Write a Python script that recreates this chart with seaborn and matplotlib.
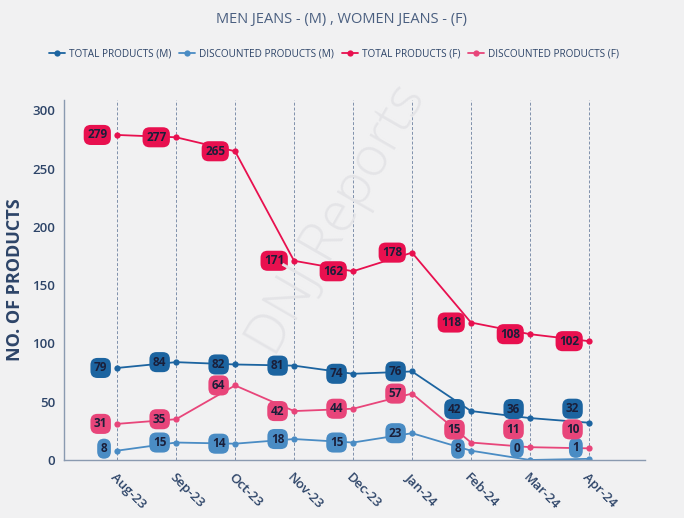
import numpy as np
import pandas as pd
import matplotlib
matplotlib.use("Agg")
import matplotlib.pyplot as plt
import seaborn as sns

months = ['Aug-23', 'Sep-23', 'Oct-23', 'Nov-23', 'Dec-23', 'Jan-24', 'Feb-24', 'Mar-24', 'Apr-24']
total_m = [79, 84, 82, 81, 74, 76, 42, 36, 32]
disc_m = [8, 15, 14, 18, 15, 23, 8, 0, 1]
total_f = [279, 277, 265, 171, 162, 178, 118, 108, 102]
disc_f = [31, 35, 64, 42, 44, 57, 15, 11, 10]

series = {
    'TOTAL PRODUCTS (M)': (total_m, '#1c64a0'),
    'DISCOUNTED PRODUCTS (M)': (disc_m, '#4a8cc4'),
    'TOTAL PRODUCTS (F)': (total_f, '#e8104f'),
    'DISCOUNTED PRODUCTS (F)': (disc_f, '#e8457a'),
}

# label nudges (pixels upward) where labels would collide
nudge = {
    'TOTAL PRODUCTS (M)': {6: 2, 7: 9, 8: 14},
    'DISCOUNTED PRODUCTS (M)': {0: 2, 6: 2, 7: 12, 8: 11},
    'DISCOUNTED PRODUCTS (F)': {6: 13, 7: 18, 8: 19},
}

rows = []
for name, (vals, _) in series.items():
    for i, v in enumerate(vals):
        rows.append({'idx': i, 'month': months[i], 'value': v, 'series': name})
df = pd.DataFrame(rows)

sns.set_style("white")
plt.rcParams['font.family'] = ['Open Sans', 'DejaVu Sans']

fig = plt.figure(figsize=(6.84, 5.18), dpi=100, facecolor='#f1f1f2')
ax = fig.add_axes([64 / 684, 58 / 518, (645 - 64) / 684, (460 - 100) / 518])
ax.set_facecolor('none')

# faint watermark
fig.text(338 / 684, 1 - 220 / 518, 'DNJ Reports', rotation=60, ha='center', va='center',
         fontsize=40, fontweight='light', color='#e4e4e7', zorder=0)

palette = {k: c for k, (_, c) in series.items()}
sns.lineplot(data=df, x='idx', y='value', hue='series', palette=palette, marker='o',
             markersize=4.5, markeredgewidth=0, linewidth=1.3, ax=ax, legend=True)

# vertical dashed guides
for i in range(len(months)):
    ax.axvline(i, color='#7f90ab', linestyle=(0, (3, 2)), linewidth=0.7, zorder=0)

# value labels
for name, (vals, col) in series.items():
    for i, v in enumerate(vals):
        dy = nudge.get(name, {}).get(i, 0) * 0.72
        ax.annotate(str(v), (i, v), xytext=(-7, dy), textcoords='offset points',
                    ha='right', va='center', fontsize=8.5, fontweight='bold', color='#1a1f3a',
                    bbox=dict(boxstyle='round,pad=0.3,rounding_size=0.6', fc=col, ec='none'),
                    zorder=5)

ax.set_xlim(-0.9, 8.95)
ax.set_ylim(0, 309)
ax.set_xticks(range(len(months)))
ax.set_xticklabels(months, rotation=-45, ha='left', rotation_mode='anchor',
                   fontsize=9.5, color='#2d4468', fontweight='semibold')
ax.set_yticks([0, 50, 100, 150, 200, 250, 300])
ax.tick_params(axis='y', labelsize=9.5, labelcolor='#2d4468', length=3, color='#8a9ab0')
ax.tick_params(axis='x', length=4, color='#8a9ab0', pad=4)
for lbl in ax.get_yticklabels():
    lbl.set_fontweight('semibold')
ax.set_xlabel('')
ax.set_ylabel('NO. OF PRODUCTS', fontsize=13, fontweight='bold', color='#2d4468', labelpad=6)
sns.despine(ax=ax)
for s in ['left', 'bottom']:
    ax.spines[s].set_color('#8a9ab0')
    ax.spines[s].set_linewidth(1.0)

handles, labels = ax.get_legend_handles_labels()
ax.legend(handles, labels, loc='center', bbox_to_anchor=(334 / 684, 1 - 54 / 518),
          bbox_transform=fig.transFigure, ncol=4, frameon=False, fontsize=7.2,
          labelcolor='#2d4468', handlelength=1.6, handletextpad=0.4, columnspacing=0.8)

fig.text(342 / 684, 1 - 20 / 518, 'MEN JEANS - (M) , WOMEN JEANS - (F)', ha='center', va='center',
         fontsize=10.5, color='#4a5f80')

fig.savefig('out.png', dpi=100, facecolor=fig.get_facecolor())
